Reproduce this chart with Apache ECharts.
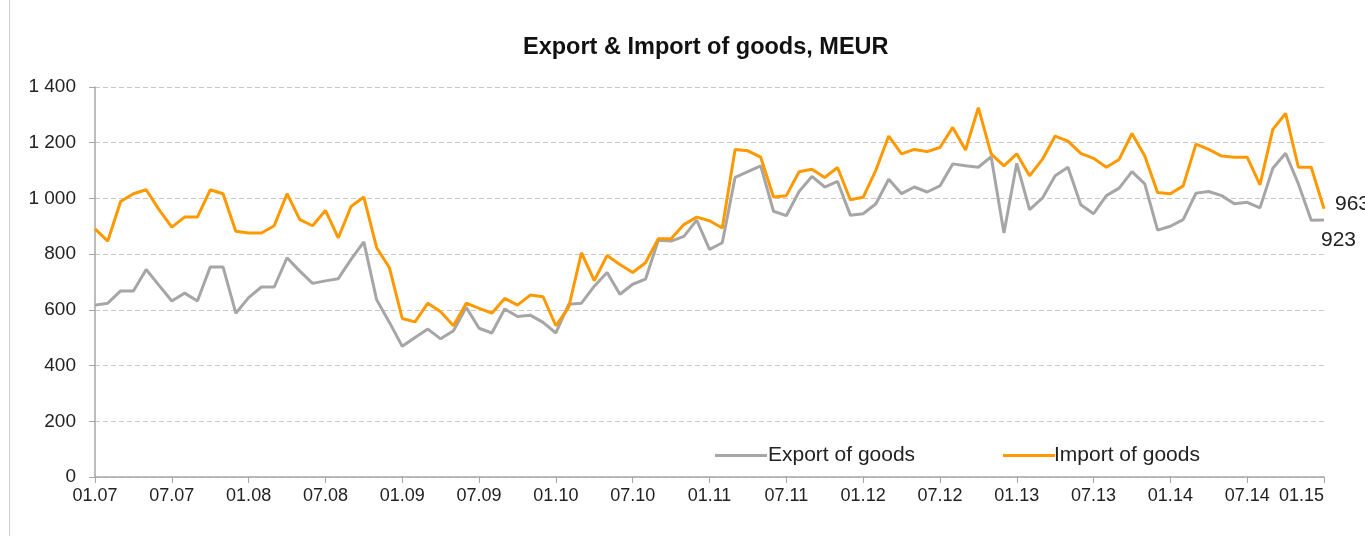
<!DOCTYPE html>
<html>
<head>
<meta charset="utf-8">
<script src="https://cdn.jsdelivr.net/npm/echarts@6/dist/echarts.min.js"></script>
<style>
html,body{margin:0;padding:0;background:#fff;}
#chart{width:1365px;height:536px;}
</style>
</head>
<body>
<div id="chart"></div>
<script>
// Monthly data, 01.2007 .. 01.2015 (97 months)
var startYear = 2007, startMonth = 1, monthCount = 97;
var categories = [];
for (var k = 0; k < monthCount; k++) {
  var m = (startMonth - 1 + k) % 12 + 1;
  var y = startYear + Math.floor((startMonth - 1 + k) / 12);
  categories.push((m < 10 ? '0' : '') + m + '.' + String(y).slice(2));
}

var exportGoods = [
  617, 624, 668, 668, 745, 688, 632, 660, 632, 754, 754, 588, 644, 682, 682, 787, 739, 695, 704, 712,
  781, 844, 636, 555, 469, 501, 531, 496, 525, 609, 534, 517, 603, 576, 581, 555, 517, 620, 624, 685,
  734, 656, 692, 710, 850, 847, 864, 922, 817, 841, 1076, 1096, 1117, 954, 938, 1025, 1079, 1041, 1061, 940,
  945, 981, 1069, 1017, 1041, 1023, 1045, 1124, 1117, 1112, 1150, 876, 1126, 960, 1001, 1081, 1112, 977, 945,
  1010, 1037, 1096, 1052, 886, 900, 924, 1019, 1025, 1010, 981, 986, 966, 1108, 1162, 1052, 922, 923
];

var importGoods = [
  891, 847, 989, 1017, 1031, 960, 897, 933, 933, 1031, 1017, 882, 876, 876, 902, 1017, 924, 902, 957, 858,
  971, 1005, 823, 751, 569, 557, 624, 593, 543, 624, 605, 588, 641, 617, 653, 647, 543, 609, 805, 705,
  795, 763, 734, 769, 855, 855, 906, 933, 920, 894, 1176, 1171, 1148, 1005, 1010, 1096, 1105, 1075, 1111, 995,
  1004, 1102, 1224, 1160, 1176, 1168, 1183, 1255, 1174, 1326, 1160, 1117, 1160, 1081, 1140, 1224, 1206, 1162, 1144,
  1112, 1140, 1233, 1152, 1021, 1017, 1045, 1195, 1176, 1152, 1148, 1148, 1049, 1248, 1305, 1112, 1112, 963
];

var seriesNames = ['Export of goods', 'Import of goods'];
var chartTitle = 'Export & Import of goods, MEUR';

var FONT = '"Liberation Sans", Arial, sans-serif';
var chart = echarts.init(document.getElementById('chart'), null, {renderer: 'canvas'});

function endLbl(offset) {
  return {
    show: true,
    offset: offset,
    distance: 5,
    color: '#222',
    fontFamily: FONT,
    fontSize: 21,
    formatter: function (p) { return String(p.value); }
  };
}

chart.setOption({
  animation: false,
  backgroundColor: '#fff',
  graphic: [{
    type: 'line', shape: {x1: 9.5, y1: 0, x2: 9.5, y2: 536},
    style: {stroke: '#d0d0d0', lineWidth: 1}
  }],
  title: {
    text: chartTitle,
    left: 518,
    top: 31,
    textStyle: {fontFamily: FONT, fontWeight: 'bold', fontSize: 23.5, color: '#111'}
  },
  legend: [{
    data: [seriesNames[0]],
    left: 710, top: 440,
    icon: 'rect', itemWidth: 52, itemHeight: 3,
    textStyle: {fontFamily: FONT, fontSize: 21, color: '#222', padding: [0, 0, 0, -4]}
  }, {
    data: [seriesNames[1]],
    left: 998, top: 440,
    icon: 'rect', itemWidth: 52, itemHeight: 3,
    textStyle: {fontFamily: FONT, fontSize: 21, color: '#222', padding: [0, 0, 0, -6]}
  }],
  grid: {left: 95, right: 41, top: 87, bottom: 59, containLabel: false},
  xAxis: {
    type: 'category',
    data: categories,
    boundaryGap: false,
    axisLine: {lineStyle: {color: '#a6a6a6', width: 1.5}},
    axisTick: {interval: 5, length: 6, lineStyle: {color: '#a6a6a6'}},
    axisLabel: {interval: 5, margin: 10, color: '#222', fontFamily: FONT, fontSize: 18, alignMaxLabel: 'right'},
    splitLine: {show: false}
  },
  yAxis: {
    type: 'value',
    min: 0, max: 1400, interval: 200,
    axisLine: {show: true, lineStyle: {color: '#a6a6a6', width: 1.5}},
    axisTick: {show: true, length: 6, lineStyle: {color: '#a6a6a6'}},
    axisLabel: {
      margin: 19, color: '#222', fontFamily: FONT, fontSize: 19,
      formatter: function (v) { return String(v).replace(/\B(?=(\d{3})+(?!\d))/g, ' '); }
    },
    splitLine: {lineStyle: {color: '#c8c8c8', type: [5, 3], width: 1}}
  },
  series: [{
    name: seriesNames[0],
    type: 'line',
    data: exportGoods,
    symbol: 'none',
    lineStyle: {color: '#a6a6a6', width: 3},
    itemStyle: {color: '#a6a6a6'},
    endLabel: endLbl([-8, 20]),
    z: 2
  }, {
    name: seriesNames[1],
    type: 'line',
    data: importGoods,
    symbol: 'none',
    lineStyle: {color: '#ff9900', width: 3},
    itemStyle: {color: '#ff9900'},
    endLabel: endLbl([6, -5]),
    z: 3
  }]
});
</script>
</body>
</html>
